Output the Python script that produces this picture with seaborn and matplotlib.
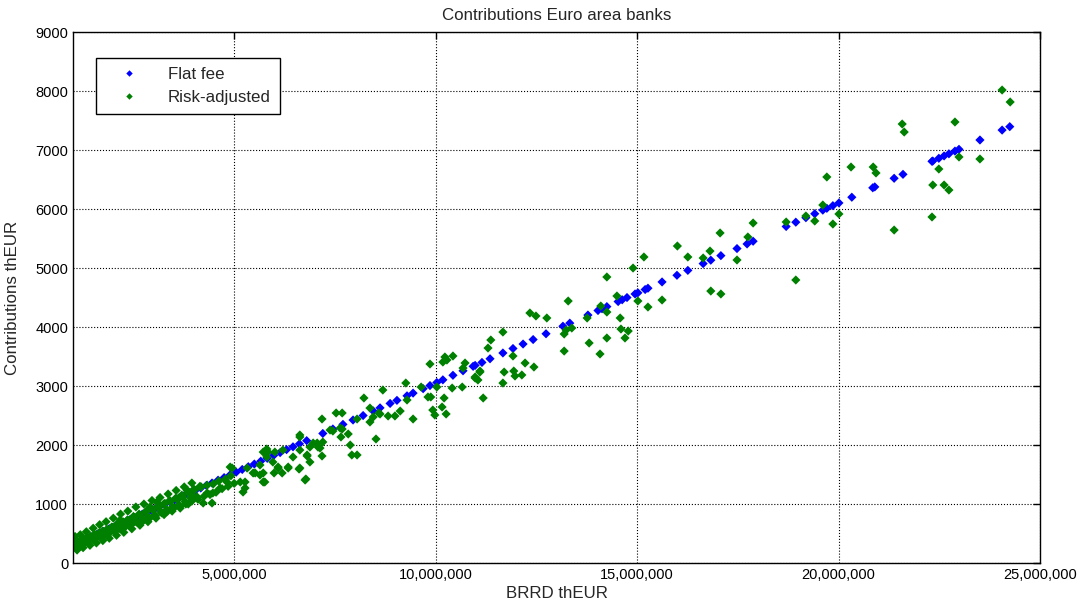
import numpy as np
import pandas as pd
import matplotlib
matplotlib.use("Agg")
import matplotlib.pyplot as plt
import matplotlib.ticker as mticker
import seaborn as sns

# ==========================================
# DATOS (BRRD en millones de thEUR, contribuciones en thEUR)
# ==========================================

flat_brrd_m = [
    1.02, 1.08, 1.15, 1.22, 1.30, 1.38, 1.45, 1.52, 1.60, 1.68, 1.75, 1.83, 1.90, 1.98,
    2.06, 2.15, 2.24, 2.33, 2.42, 2.52, 2.62, 2.72, 2.83, 2.94, 3.05, 3.16, 3.28, 3.40,
    3.52, 3.64, 3.77, 3.90, 4.03, 4.17, 4.31, 4.45, 4.60, 4.75, 4.90, 5.05, 5.20, 5.35,
    5.50, 5.66, 5.82, 5.98, 6.14, 6.30, 6.46, 6.62, 6.80,
    7.20, 7.45, 7.70, 7.95, 8.20, 8.45, 8.62, 8.87, 9.04, 9.29, 9.44, 9.69, 9.86, 10.03,
    10.18, 10.43, 10.68, 10.93, 10.98, 11.15, 11.35, 11.67, 11.92, 12.17, 12.42, 12.74,
    13.16, 13.33, 13.78, 14.03, 14.13, 14.25, 14.53, 14.63, 14.75, 14.95, 15.02, 15.20,
    15.27, 15.62, 15.99, 16.26, 16.64, 16.83, 17.08, 17.48, 17.73, 17.88, 18.70, 18.94,
    19.19, 19.41, 19.61, 19.71, 19.86, 20.01, 20.33, 20.85, 20.90, 21.38, 21.60, 22.32,
    22.34, 22.49, 22.62, 22.74, 22.89, 22.99, 23.51, 24.06, 24.25,
]
flat_contrib = [
    300, 322, 348, 370, 395, 418, 445, 462, 490, 510, 535, 556, 582, 602,
    630, 655, 684, 710, 740, 768, 800, 828, 864, 896, 932, 963, 1000, 1038,
    1072, 1110, 1150, 1190, 1228, 1272, 1315, 1356, 1404, 1448, 1495, 1540, 1586, 1632,
    1678, 1726, 1775, 1824, 1872, 1922, 1970, 2020, 2074,
    2196, 2272, 2350, 2424, 2500, 2578, 2630, 2705, 2757, 2834, 2880, 2955, 3008, 3060,
    3105, 3182, 3258, 3334, 3350, 3400, 3462, 3560, 3636, 3712, 3788, 3886,
    4014, 4066, 4203, 4280, 4310, 4346, 4432, 4462, 4500, 4560, 4580, 4636,
    4658, 4764, 4877, 4960, 5075, 5133, 5210, 5330, 5408, 5454, 5704, 5777,
    5853, 5920, 5981, 6012, 6057, 6103, 6200, 6360, 6375, 6521, 6588, 6808,
    6814, 6860, 6900, 6936, 6982, 7012, 7170, 7338, 7396,
]

risk_brrd_m = [
    1.00, 1.03, 1.05, 1.08, 1.10, 1.13, 1.17, 1.20, 1.24, 1.28, 1.32, 1.36, 1.40, 1.45,
    1.50, 1.55, 1.60, 1.65, 1.70, 1.75, 1.80, 1.86, 1.92, 1.98, 2.04, 2.10, 2.17, 2.24,
    2.30, 2.38, 2.45, 2.52, 2.60, 2.68, 2.75, 2.83, 2.90, 2.98, 3.05, 3.12, 3.20, 3.28,
    3.35, 3.42, 3.50, 3.58, 3.65, 3.72, 3.80, 3.88, 3.95, 4.02, 4.10, 4.18, 4.25, 4.33,
    4.40, 4.48, 4.55, 4.62, 4.70, 4.78, 4.85, 4.92, 5.00,
    1.01, 1.04, 1.06, 1.09, 1.12, 1.15, 1.19, 1.22, 1.26, 1.30, 1.34, 1.38, 1.43, 1.48,
    1.53, 1.58, 1.63, 1.68, 1.73, 1.78, 1.84, 1.90, 1.96, 2.02, 2.08, 2.14, 2.21, 2.28,
    2.35, 2.42, 2.50, 2.57, 2.64, 2.72, 2.80, 2.87, 2.95, 3.02, 3.10, 3.18, 3.25, 3.32,
    3.40, 3.47, 3.55, 3.62, 3.70, 3.78, 3.85, 3.92, 4.00, 4.08, 4.15,
    1.05, 1.10, 1.18, 1.25, 1.33, 1.42, 1.50, 1.58, 1.66, 1.74, 1.82, 1.90, 2.00, 2.08,
    2.18, 2.26, 2.36, 2.46, 2.56, 2.66, 2.76, 2.86, 2.96, 3.06, 3.16, 3.26, 3.36, 3.46,
    3.56, 3.66, 3.76, 3.86,
    3.66, 3.83, 3.95, 3.98, 4.33, 4.45, 4.23, 3.33, 3.08, 2.91, 2.17, 4.47, 4.65, 4.82,
    4.90, 4.95, 5.15, 5.22, 5.27, 5.27, 5.32, 5.47, 5.52, 5.64, 5.64, 5.72, 5.72, 5.72,
    5.76, 5.81, 5.81, 5.84, 5.96, 5.99, 6.01, 6.09, 6.09, 6.19, 6.21, 6.34, 6.34, 6.46,
    6.61, 6.63, 6.63, 6.63, 6.63, 6.76, 6.78, 6.81, 6.81, 6.88, 6.88, 6.96, 7.06, 7.08,
    7.13, 7.18, 7.18, 7.20, 7.38, 7.45, 7.53, 7.65, 7.68, 7.68, 7.63, 7.83, 7.88, 7.92,
    8.05, 8.05, 8.22, 8.37, 8.37, 8.45, 8.52, 8.59, 8.62, 8.69, 8.82, 8.99, 9.12, 9.26,
    9.29, 9.44, 9.64, 9.81, 9.86, 9.88, 9.93, 9.98, 10.03, 10.16, 10.18, 10.21, 10.23,
    10.26, 10.28, 10.41, 10.43, 10.66, 10.68, 10.73, 10.98, 10.98, 11.05, 11.10, 11.10,
    11.18, 11.30, 11.37, 11.67, 11.67, 11.70, 11.92, 11.94, 11.97, 12.14, 12.22, 12.34,
    12.44, 12.49, 12.76, 13.19, 13.19, 13.24, 13.29, 13.38, 13.76, 13.81, 14.08, 14.10,
    14.25, 14.25, 14.25, 14.50, 14.58, 14.60, 14.70, 14.78, 14.90, 15.02, 15.17, 15.27,
    15.62, 16.00, 16.26, 16.64, 16.81, 16.83, 17.06, 17.08, 17.48, 17.75, 17.88, 18.70,
    18.94, 19.19, 19.41, 19.61, 19.71, 19.86, 20.01, 20.31, 20.86, 20.93, 21.38, 21.58,
    21.63, 22.32, 22.34, 22.49, 22.62, 22.74, 22.89, 22.99, 23.51, 24.06, 24.26,
]
risk_contrib = [
    270, 320, 285, 340, 300, 350, 320, 375, 345, 400, 360, 420, 390, 445,
    410, 475, 440, 500, 470, 530, 495, 560, 520, 600, 560, 640, 590, 700,
    620, 720, 650, 770, 690, 800, 720, 880, 760, 900, 800, 950, 850, 1010,
    880, 1040, 930, 1090, 960, 1120, 1000, 1180, 1050, 1240, 1080, 1290, 1130, 1320,
    1160, 1340, 1200, 1390, 1260, 1420, 1300, 1480, 1350,
    330, 290, 345, 305, 360, 330, 385, 340, 400, 365, 425, 380, 450, 405,
    480, 430, 505, 455, 540, 480, 570, 510, 610, 545, 650, 580, 690, 610,
    730, 650, 790, 700, 830, 740, 870, 780, 920, 810, 960, 870, 1000, 900,
    1060, 950, 1100, 990, 1150, 1040, 1200, 1100, 1250, 1120, 1300,
    450, 220, 480, 260, 530, 300, 590, 340, 650, 380, 700, 420, 760, 470,
    830, 520, 880, 580, 950, 640, 1000, 700, 1060, 760, 1110, 820, 1170, 880,
    1230, 930, 1290, 1000,
    1119, 1237, 1356, 1119, 1187, 1017, 1017, 898, 1034, 949, 729, 1187, 1271, 1373,
    1627, 1610, 1373, 1203, 1271, 1373, 1610, 1526, 1526, 1492, 1661, 1526, 1881, 1373,
    1373, 1932, 1797, 1881, 1712, 1526, 1881, 1627, 1610, 1526, 1915, 1610, 1627, 1797,
    1593, 2136, 1610, 1915, 2170, 1407, 1424, 1814, 1831, 1966, 1712, 2034, 2034, 1966,
    1949, 2441, 1814, 2051, 2254, 2237, 2543, 2136, 2543, 2271, 2288, 2187, 2000, 1831,
    1831, 2441, 2797, 2390, 2627, 2475, 2102, 2543, 2526, 2932, 2492, 2492, 2576, 3051,
    2763, 2441, 2983, 2814, 3373, 2814, 2593, 2509, 2983, 2644, 3407, 2797, 3492,
    2526, 3441, 2966, 3509, 2983, 3305, 3390, 3136, 3153, 3102, 3254, 3237,
    2797, 3644, 3780, 3915, 3051, 3237, 3509, 3254, 3170, 3187, 3390, 4238,
    3322, 4187, 4153, 3882, 3593, 3949, 4441, 3983, 4153, 3729, 3543, 4356,
    4254, 3814, 4848, 4526, 4153, 3966, 3814, 3932, 5000, 4441, 5187, 4339,
    4458, 5373, 5187, 5170, 5288, 4610, 5594, 4560, 5136, 5526, 5763, 5780,
    4797, 5882, 5797, 6068, 6543, 5746, 5916, 6712, 6712, 6611, 5644, 7441,
    7305, 5865, 6407, 6678, 6407, 6322, 7475, 6882, 6848, 8017, 7814,
]

SERIES = ["Flat fee", "Risk-adjusted"]
COLORES = {"Flat fee": "#0000FF", "Risk-adjusted": "#008000"}

# ==========================================
# TABLA
# ==========================================

df = pd.concat([
    pd.DataFrame({
        "BRRD": np.array(flat_brrd_m) * 1e6,
        "Contrib": flat_contrib,
        "Serie": SERIES[0],
    }),
    pd.DataFrame({
        "BRRD": np.array(risk_brrd_m) * 1e6,
        "Contrib": risk_contrib,
        "Serie": SERIES[1],
    }),
], ignore_index=True)

# ==========================================
# GRAFICO
# ==========================================

sns.set_style("white")
plt.rcParams["font.family"] = ["Liberation Sans", "DejaVu Sans"]
plt.rcParams["font.size"] = 10.5

fig = plt.figure(figsize=(10.85, 6.10), dpi=100)
ax = fig.add_axes([0.0673, 0.077, 0.8912, 0.8705])

sns.scatterplot(
    data=df,
    x="BRRD",
    y="Contrib",
    hue="Serie",
    hue_order=SERIES,
    palette=COLORES,
    marker="D",
    s=22,
    linewidth=0,
    ax=ax,
)

ax.set_xlim(1e6, 25e6)
ax.set_ylim(0, 9000)
ax.set_xticks([5e6, 10e6, 15e6, 20e6, 25e6])
ax.set_yticks(range(0, 9001, 1000))
ax.xaxis.set_major_formatter(
    mticker.FuncFormatter(lambda v, p: f"{v:,.0f}")
)

ax.grid(True, color="black", linestyle=":", linewidth=0.8)
ax.tick_params(
    direction="in", length=5, width=1,
    top=True, right=True, labelsize=10.5, colors="black",
)
for sp in ax.spines.values():
    sp.set_color("black")
    sp.set_linewidth(1)

ax.set_title("Contributions Euro area banks", fontsize=12.2, pad=9)
ax.set_xlabel("BRRD thEUR", fontsize=12.2, labelpad=3)
ax.set_ylabel("Contributions thEUR", fontsize=12.2, labelpad=11)

leg = ax.legend(
    loc="upper left",
    bbox_to_anchor=(0.0238, 0.951),
    borderaxespad=0,
    frameon=True,
    fancybox=False,
    edgecolor="black",
    framealpha=1,
    borderpad=0.55,
    labelspacing=0.45,
    handlelength=2.8,
    handletextpad=0.9,
    markerscale=0.7,
    fontsize=12.2,
)
leg.get_frame().set_linewidth(1)

plt.savefig("out.png", dpi=100)
plt.close()
